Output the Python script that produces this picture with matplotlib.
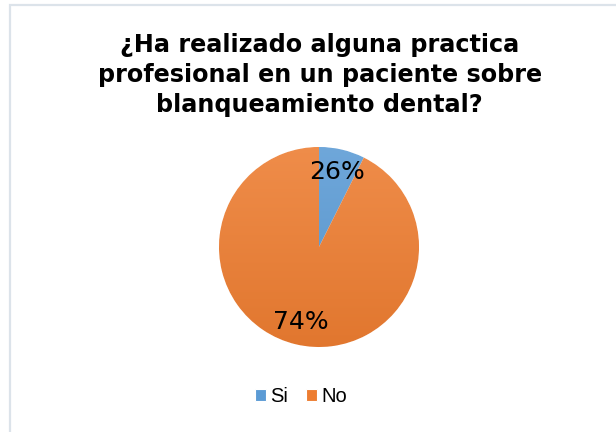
import matplotlib
matplotlib.use('Agg')
import matplotlib.pyplot as plt
import numpy as np
from matplotlib.patches import Rectangle

# Data (slice sizes as drawn in the reference, label text as printed)
categories = ['Si', 'No']
slice_values = [7.4, 92.6]
label_text = ['26%', '74%']
colors = ['#5B9BD5', '#ED7D31']
title = '¿Ha realizado alguna practica\nprofesional en un paciente sobre\nblanqueamiento dental?'

fig = plt.figure(figsize=(6.16, 4.32), dpi=100)
fig.patch.set_facecolor('white')

# light frame at top and left
fig.add_artist(Rectangle((10 / 616, -0.05), 1.1, (427 / 432) + 0.05,
                         transform=fig.transFigure, facecolor='none',
                         edgecolor='#dce3ea', linewidth=1.6))

fig.text(0.519, 0.923, title, ha='center', va='top', fontsize=17.2,
         fontweight='bold', family='DejaVu Sans', linespacing=1.3)

ax = fig.add_axes([219 / 616, 85 / 432, 200 / 616, 200 / 432])
wedges, texts = ax.pie(slice_values, labels=label_text, colors=colors,
                       startangle=90, counterclock=False, labeldistance=0.77,
                       textprops={'fontsize': 18, 'color': 'black',
                                  'ha': 'center', 'va': 'center'},
                       wedgeprops={'linewidth': 0.8, 'edgecolor': 'white'})

# soft vertical gradient on each slice
grad = np.linspace(0, 1, 256).reshape(-1, 1)
for w, c in zip(wedges, colors):
    base = np.array(matplotlib.colors.to_rgb(c))
    light = base * 0.88 + 0.12
    dark = base * 0.95
    img = light[None, None, :] * (1 - grad[..., None]) + dark[None, None, :] * grad[..., None]
    im = ax.imshow(img, extent=[-1, 1, -1, 1], origin='upper', zorder=w.get_zorder() + 0.1,
                   aspect='auto')
    im.set_clip_path(w)
for t in texts:
    t.set_zorder(5)

ax.set_xlim(-1, 1)
ax.set_ylim(-1, 1)
ax.set_aspect('equal')
ax.axis('off')

fig.legend(wedges, categories, loc='center', bbox_to_anchor=(301 / 616, 1 - 397 / 432),
           ncol=2, frameon=False, handlelength=0.55, handleheight=0.55,
           handletextpad=0.25, columnspacing=0.85,
           prop={'family': 'Liberation Sans', 'size': 14.5})

fig.savefig('out.png', dpi=100)
